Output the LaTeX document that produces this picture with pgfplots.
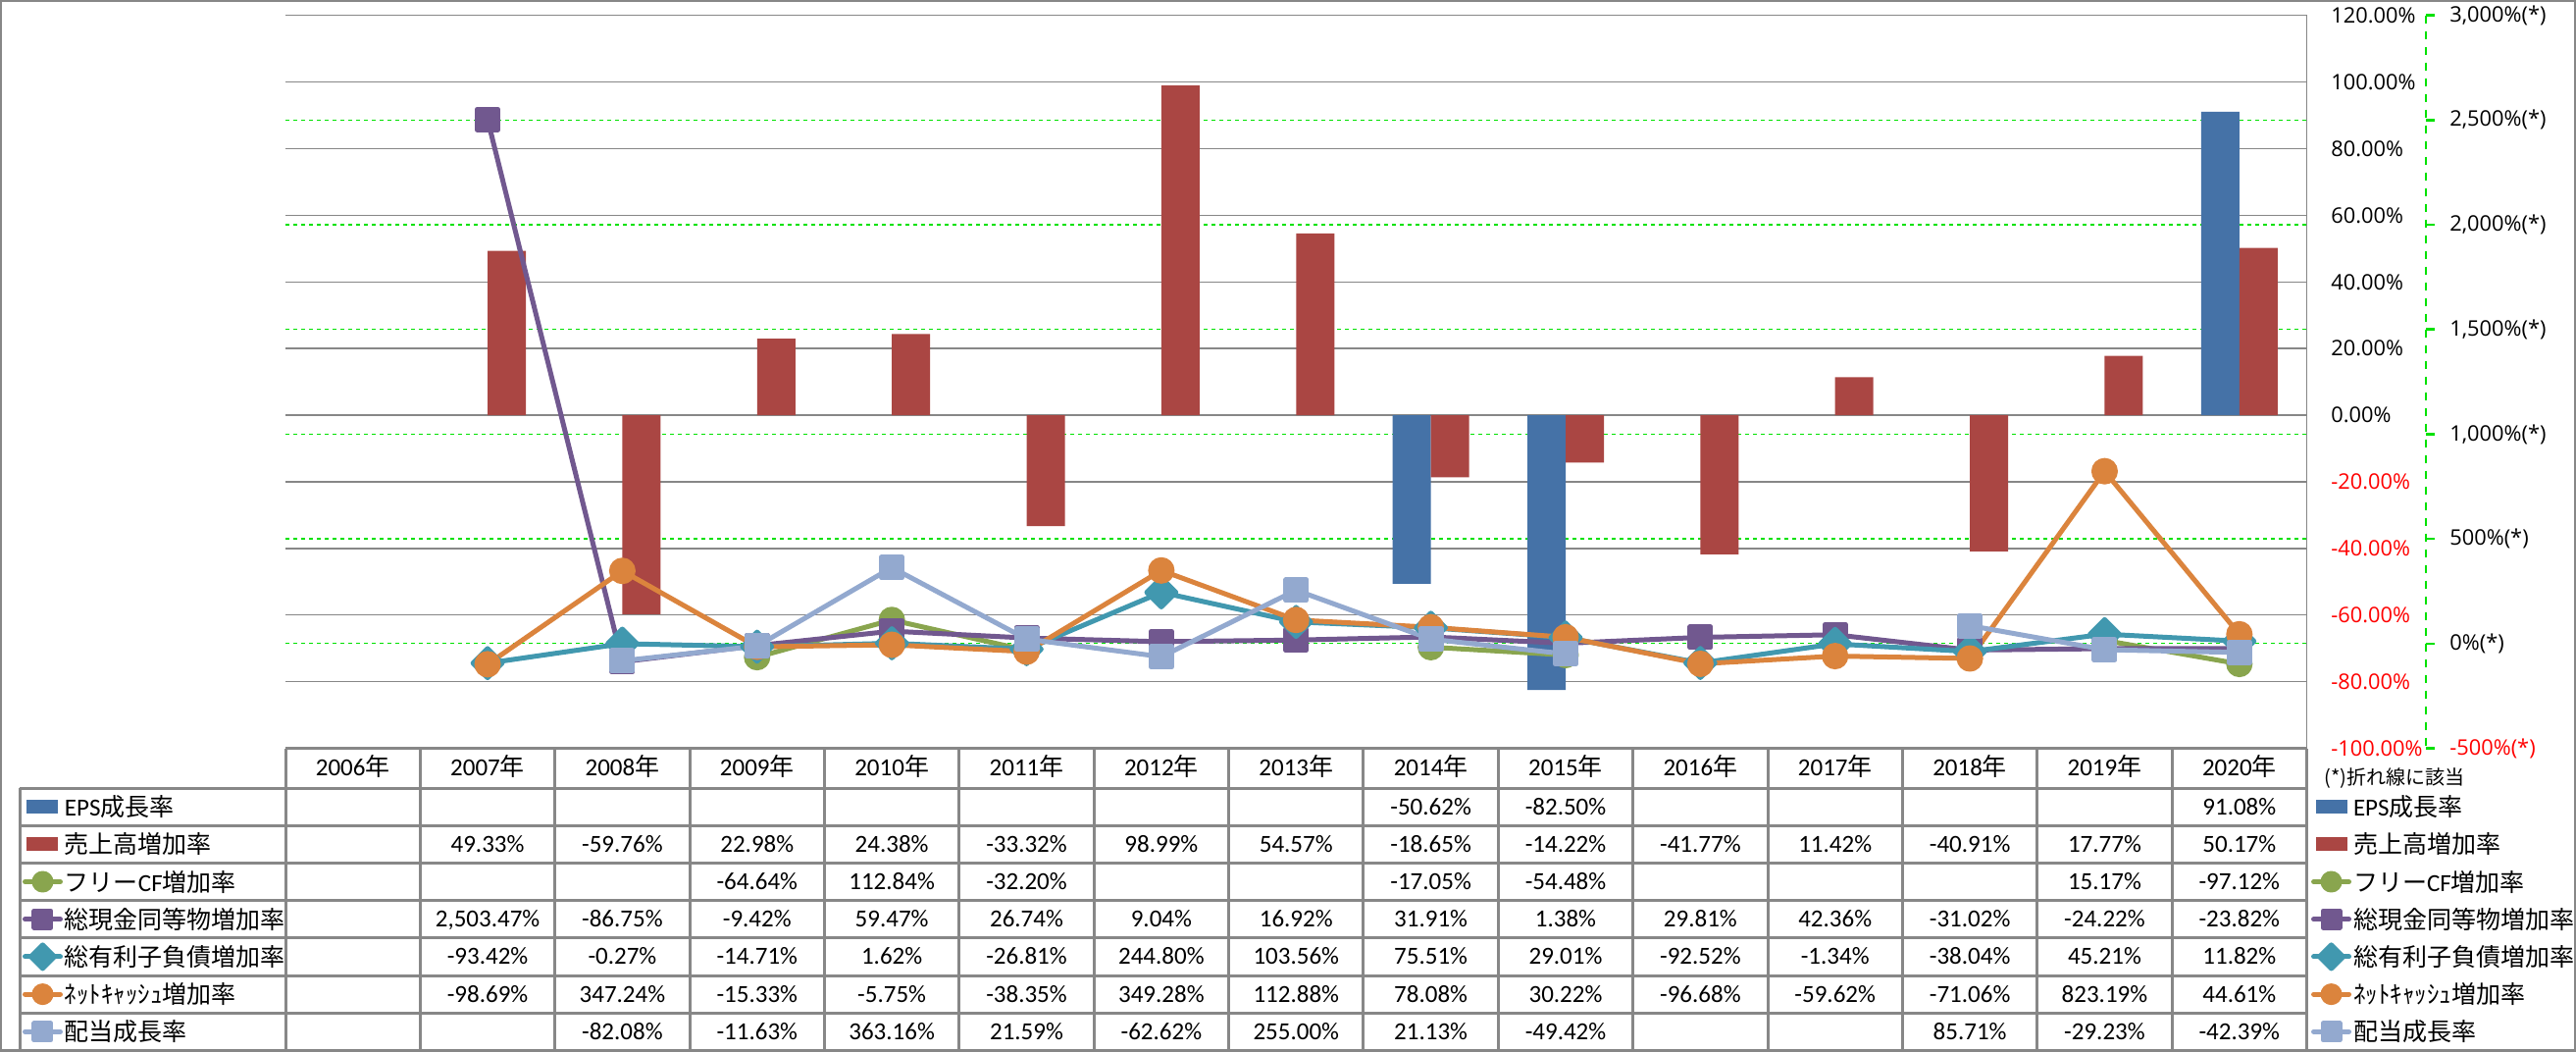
\documentclass[border=0pt]{standalone}
\usepackage{pgfplots}
\usepackage{pgfplotstable}
\pgfplotsset{compat=1.18}
\usepackage{fontspec}
\setmainfont{Carlito}
\newfontfamily\jp{Noto Sans CJK JP}
\newfontfamily\ax{Open Sans}
\newlength{\px}\setlength{\px}{0.5pt}
\definecolor{cEPS}{HTML}{4572A7}
\definecolor{cSales}{HTML}{AA4643}
\definecolor{cFCF}{HTML}{89A54E}
\definecolor{cCash}{HTML}{71588F}
\definecolor{cDebt}{HTML}{4198AF}
\definecolor{cNet}{HTML}{DB843D}
\definecolor{cDiv}{HTML}{93A9CF}
\definecolor{gridgray}{HTML}{878787}
\definecolor{gline}{RGB}{0,225,0}
\newcommand\tf{\fontsize{12.5pt}{14pt}\selectfont}
\newcommand\axf{\fontsize{10.9pt}{12pt}\selectfont\ax}
\newcommand\nf{\fontsize{10pt}{12pt}\selectfont\jp}

\pgfplotstableread{
x eps sales fcf cash debt net div
0 nan nan nan nan nan nan nan
1 nan 49.33 nan 2503.47 -93.42 -98.69 nan
2 nan -59.76 nan -86.75 -0.27 347.24 -82.08
3 nan 22.98 -64.64 -9.42 -14.71 -15.33 -11.63
4 nan 24.38 112.84 59.47 1.62 -5.75 363.16
5 nan -33.32 -32.20 26.74 -26.81 -38.35 21.59
6 nan 98.99 nan 9.04 244.80 349.28 -62.62
7 nan 54.57 nan 16.92 103.56 112.88 255.00
8 -50.62 -18.65 -17.05 31.91 75.51 78.08 21.13
9 -82.50 -14.22 -54.48 1.38 29.01 30.22 -49.42
10 nan -41.77 nan 29.81 -92.52 -96.68 nan
11 nan 11.42 nan 42.36 -1.34 -59.62 nan
12 nan -40.91 nan -31.02 -38.04 -71.06 85.71
13 nan 17.77 15.17 -24.22 45.21 823.19 -29.23
14 91.08 50.17 -97.12 -23.82 11.82 44.61 -42.39
}\data

\pgfplotsset{
  barkey/.style={legend image code/.code={\fill[##1] (2\px,-7\px) rectangle (34\px,7\px);}},
  linekey/.style={legend image code/.code={\draw[mark repeat=2,mark phase=2,##1, mark size=8.5\px] plot coordinates {(0pt,0pt) (18\px,0pt) (36\px,0pt)};}},
  ser/.style={color=#1, line width=5\px, line join=round, line cap=round, linekey},
  mycirc/.style={mark=*, mark size=11\px, mark options={solid}},
  mysq/.style={mark=square*, mark size=10.5\px, mark options={solid, rounded corners=3\px}},
  mydia/.style={mark=square*, mark size=10.5\px, mark options={solid, rotate=45}},
  base/.style={at={(291\px,-762.5\px)}, anchor=south west,
    width=2060.5\px, height=746.8\px, scale only axis,
    xmin=-0.5, xmax=14.5, clip=false},
  leg/.style={legend style={at={(axis description cs:#1,-0.05423)}, anchor=north west,
    draw=none, fill=none, inner sep=0pt, outer sep=0pt, row sep=0pt, column sep=2\px,
    nodes={inner sep=0pt, text height=28.6\px, text depth=9.6\px, font=\tf}},
    legend cell align=left},
}

\begin{document}
\begin{tikzpicture}
\begin{scope}[x=\px, y=-\px]
\useasboundingbox (0,0) rectangle (2626,1071);
% outer frame
\draw[gridgray, line width=1.5] (0.75,0.75) rectangle (2625.25,1070.25);
% table borders
\begin{scope}[gridgray, line width=1.5]
\foreach \k in {0,...,7} \draw (20,{803+\k*38.2}) -- (2351.5,{803+\k*38.2});
\draw (291,762.5) -- (2351.5,762.5);
\draw (20,803) -- (20,1070.4);
\foreach \i in {0,...,15} \draw ({291+\i*137.3667},762.5) -- ({291+\i*137.3667},1070.4);
\end{scope}
% header
\foreach \i in {0,...,14}{
  \pgfmathtruncatemacro\yr{2006+\i}
  \node[anchor=base, inner sep=0pt] at ({291+(\i+0.5)*137.3667},790.6) {\tf\yr{\jp 年}};
}
% table values
\newcommand\rowvals[2]{%
  \foreach \c/\t in {#2}
    \node[anchor=base, inner sep=0pt] at ({291+(\c+0.5)*137.3667},{803+(#1+0.5)*38.2+7.9}) {\tf\t\%};}
\rowvals{0}{8/-50.62, 9/-82.50, 14/91.08}
\rowvals{1}{1/49.33, 2/-59.76, 3/22.98, 4/24.38, 5/-33.32, 6/98.99, 7/54.57, 8/-18.65, 9/-14.22, 10/-41.77, 11/11.42, 12/-40.91, 13/17.77, 14/50.17}
\rowvals{2}{3/-64.64, 4/112.84, 5/-32.20, 8/-17.05, 9/-54.48, 13/15.17, 14/-97.12}
\rowvals{3}{2/-86.75, 3/-9.42, 4/59.47, 5/26.74, 6/9.04, 7/16.92, 8/31.91, 9/1.38, 10/29.81, 11/42.36, 12/-31.02, 13/-24.22, 14/-23.82}
\node[anchor=base, inner sep=0pt] at ({291+1.5*137.3667},{803+3.5*38.2+7.9}) {\tf 2,503.47\%};
\rowvals{4}{1/-93.42, 2/-0.27, 3/-14.71, 4/1.62, 5/-26.81, 6/244.80, 7/103.56, 8/75.51, 9/29.01, 10/-92.52, 11/-1.34, 12/-38.04, 13/45.21, 14/11.82}
\rowvals{5}{1/-98.69, 2/347.24, 3/-15.33, 4/-5.75, 5/-38.35, 6/349.28, 7/112.88, 8/78.08, 9/30.22, 10/-96.68, 11/-59.62, 12/-71.06, 13/823.19, 14/44.61}
\rowvals{6}{2/-82.08, 3/-11.63, 4/363.16, 5/21.59, 6/-62.62, 7/255.00, 8/21.13, 9/-49.42, 12/85.71, 13/-29.23, 14/-42.39}
% note
\node[anchor=base west, inner sep=0pt] at (2369,799.3) {\nf (*)折れ線に該当};
% secondary axis line (offset)
\draw[gline, line width=1.3, dash pattern=on 4 off 4] (2473,15.7) -- (2473,762.5);
\foreach \k in {0,...,7} \draw[gline, line width=1.3] (2473,{762.5-\k*106.686}) -- (2482,{762.5-\k*106.686});
\end{scope}

% ---------- primary axis: bars ----------
\begin{axis}[base,
  ymin=-100, ymax=120,
  axis x line=none, axis y line*=right,
  y axis line style={draw=gridgray, line width=1.5\px},
  ytick={-100,-80,...,120},
  yticklabels={{\color{red}-100.00\%},{\color{red}-80.00\%},{\color{red}-60.00\%},{\color{red}-40.00\%},{\color{red}-20.00\%},0.00\%,20.00\%,40.00\%,60.00\%,80.00\%,100.00\%,120.00\%},
  major tick length=0pt,
  yticklabel style={font=\axf, anchor=west, inner sep=0pt, xshift=24.5\px},
  ymajorgrids,
  major grid style={gridgray, line width=1.5\px},
  extra y ticks={-68.5714,-37.1429,-5.7143,25.7143,57.1429,88.5714},
  extra y tick labels={},
  extra y tick style={major grid style={gline, line width=1.3\px, dash pattern=on 4\px off 4\px}},
  ybar=0pt, bar width=39\px,
]
\addplot[fill=cEPS, draw=none] table[x=x, y=eps]{\data};
\addplot[fill=cSales, draw=none] table[x=x, y=sales]{\data};
\end{axis}

% ---------- secondary axis: lines ----------
\begin{axis}[base, leg=-0.13006,
  ymin=-500, ymax=3000,
  axis x line=none, axis y line*=right,
  y axis line style={draw=none},
  ytick={-500,0,...,3000},
  yticklabels={{\color{red}-500\%(*)},0\%(*),500\%(*),{1,000\%(*)},{1,500\%(*)},{2,000\%(*)},{2,500\%(*)},{3,000\%(*)}},
  major tick length=0pt,
  yticklabel style={font=\axf, anchor=west, inner sep=0pt, xshift=145.5\px},
  unbounded coords=jump,
]
\addlegendimage{barkey, fill=cEPS, draw=none}
\addlegendimage{barkey, fill=cSales, draw=none}
\addplot[ser=cFCF, mycirc] table[x=x, y=fcf]{\data};
\addplot[ser=cCash, mysq] table[x=x, y=cash]{\data};
\addplot[ser=cDebt, mydia] table[x=x, y=debt]{\data};
\addplot[ser=cNet, mycirc] table[x=x, y=net]{\data};
\addplot[ser=cDiv, mysq] table[x=x, y=div]{\data};
\legend{EPS{\jp 成長率},{\jp 売上高増加率},{\jp フリー}CF{\jp 増加率},{\jp 総現金同等物増加率},{\jp 総有利子負債増加率},{\jp ﾈｯﾄｷｬｯｼｭ増加率},{\jp 配当成長率}}
\end{axis}

% ---------- right legend ----------
\begin{axis}[base, leg=1.00218, hide axis, ymin=0, ymax=1]
\addlegendimage{barkey, fill=cEPS, draw=none}
\addlegendimage{barkey, fill=cSales, draw=none}
\addlegendimage{ser=cFCF, mycirc}
\addlegendimage{ser=cCash, mysq}
\addlegendimage{ser=cDebt, mydia}
\addlegendimage{ser=cNet, mycirc}
\addlegendimage{ser=cDiv, mysq}
\legend{EPS{\jp 成長率},{\jp 売上高増加率},{\jp フリー}CF{\jp 増加率},{\jp 総現金同等物増加率},{\jp 総有利子負債増加率},{\jp ﾈｯﾄｷｬｯｼｭ増加率},{\jp 配当成長率}}
\end{axis}
\end{tikzpicture}
\end{document}
